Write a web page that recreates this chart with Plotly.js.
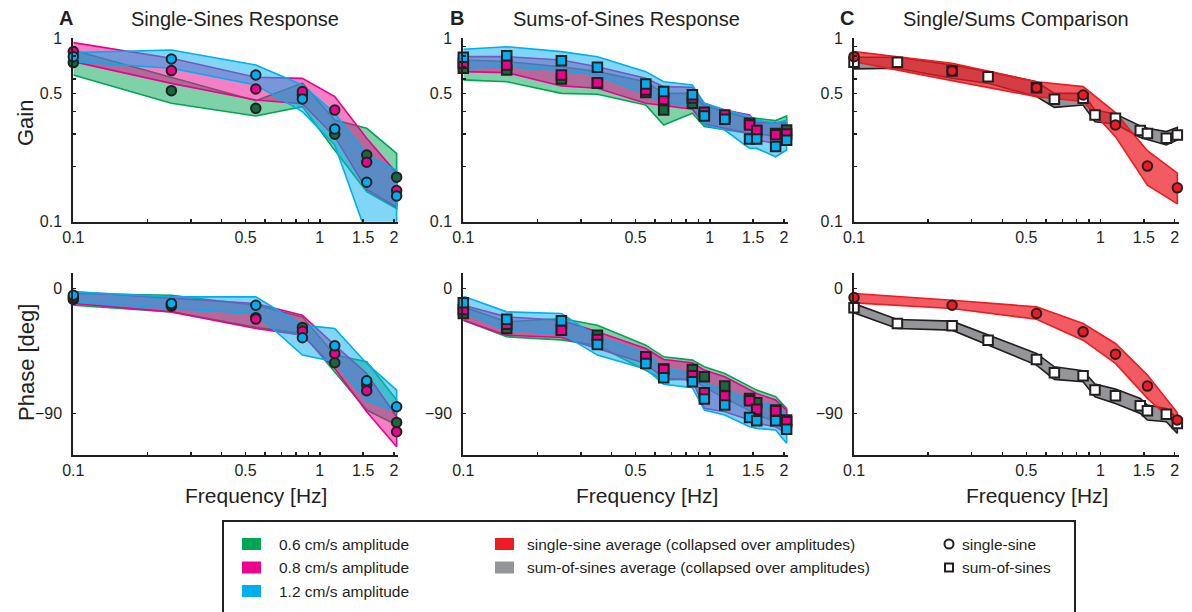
<!DOCTYPE html>
<html>
<head>
<meta charset="utf-8">
<script src="https://cdn.plot.ly/plotly-3.0.1.min.js"></script>
<style>html,body{margin:0;padding:0;background:#fff}#chart{width:1192px;height:612px}</style>
</head>
<body>
<div id="chart"></div>
<script>
// ---------------- DATA ----------------
const singleFreq = [0.1, 0.25, 0.55, 0.85, 1.15, 1.55, 2.05];
const sumsFreq = [0.1, 0.15, 0.25, 0.35, 0.55, 0.65, 0.85, 0.95, 1.15, 1.45, 1.55, 1.85, 2.05];

// Panel A gain (single sines)
const gainSingle06   = [0.737, 0.518, 0.415, 0.493, 0.300, 0.231, 0.175];
const gainSingle06Hi = [0.860, 0.610, 0.457, 0.570, 0.358, 0.323, 0.236];
const gainSingle06Lo = [0.631, 0.442, 0.377, 0.424, 0.245, 0.146, 0.118];
const gainSingle08   = [0.846, 0.667, 0.529, 0.512, 0.406, 0.211, 0.148];
const gainSingle08Hi = [0.947, 0.778, 0.613, 0.605, 0.481, 0.285, 0.184];
const gainSingle08Lo = [0.746, 0.568, 0.461, 0.440, 0.291, 0.150, 0.120];
const gainSingle12   = [0.794, 0.771, 0.631, 0.467, 0.320, 0.164, 0.138];
const gainSingle12Hi = [0.835, 0.864, 0.715, 0.557, 0.390, 0.231, 0.191];
const gainSingle12Lo = [0.746, 0.686, 0.557, 0.398, 0.262, 0.085, 0.085];

// Panel A phase
const phaseSingle06   = [-7.9, -12.7, -21, -28, -53.5, -69.6, -96.5];
const phaseSingle06Hi = [-3.6, -4.8, -12, -20.4, -48, -52.8, -80.4];
const phaseSingle06Lo = [-12, -16.8, -28, -32.4, -60, -87.6, -98.4];
const phaseSingle08   = [-6.5, -11.5, -22, -30.7, -46.8, -73.7, -103.2];
const phaseSingle08Hi = [-2.4, -7.2, -10.8, -19.2, -40.8, -61.2, -92.4];
const phaseSingle08Lo = [-10.8, -16.8, -28.8, -33.6, -57.6, -88.8, -114];
const phaseSingle12   = [-4.8, -10.8, -12, -35.5, -41.3, -66.5, -85.2];
const phaseSingle12Hi = [-2.4, -6, -6, -26.4, -28.8, -54, -73.2];
const phaseSingle12Lo = [-9.6, -14.4, -18, -48, -52.8, -80.4, -88.8];

// Panel B gain (sums of sines)
const gainSums06   = [0.686, 0.672, 0.600, 0.568, 0.506, 0.406, 0.442, 0.387, 0.371, 0.344, 0.314, 0.303, 0.316];
const gainSums06Hi = [0.762, 0.746, 0.700, 0.658, 0.580, 0.501, 0.501, 0.428, 0.398, 0.366, 0.366, 0.356, 0.377];
const gainSums06Lo = [0.593, 0.580, 0.501, 0.495, 0.433, 0.337, 0.390, 0.330, 0.316, 0.303, 0.303, 0.291, 0.303];
const gainSums08   = [0.731, 0.715, 0.631, 0.573, 0.523, 0.465, 0.473, 0.395, 0.382, 0.337, 0.314, 0.298, 0.301];
const gainSums08Hi = [0.794, 0.794, 0.762, 0.700, 0.605, 0.545, 0.541, 0.442, 0.406, 0.382, 0.347, 0.347, 0.347];
const gainSums08Lo = [0.658, 0.650, 0.550, 0.534, 0.442, 0.428, 0.410, 0.341, 0.323, 0.303, 0.279, 0.267, 0.267];
const gainSums12   = [0.788, 0.804, 0.755, 0.695, 0.564, 0.512, 0.493, 0.377, 0.362, 0.282, 0.282, 0.257, 0.278];
const gainSums12Hi = [0.871, 0.900, 0.846, 0.794, 0.658, 0.580, 0.557, 0.442, 0.406, 0.377, 0.358, 0.344, 0.358];
const gainSums12Lo = [0.686, 0.700, 0.667, 0.631, 0.497, 0.446, 0.433, 0.337, 0.316, 0.251, 0.251, 0.226, 0.246];

// Panel B phase
const phaseSums06   = [-18, -28.8, -29.5, -33.6, -50.4, -58, -58.3, -63.6, -70.3, -79.2, -82.3, -87.6, -94.8];
const phaseSums06Hi = [-13.2, -24, -21.6, -26.4, -40.8, -49.2, -51.6, -56.4, -61.2, -70.8, -73.2, -78, -86.4];
const phaseSums06Lo = [-22.8, -34.8, -37, -41, -59, -66, -65, -71, -79, -88, -91, -96, -103];
const phaseSums08   = [-15.1, -25.7, -30, -36.7, -49.2, -58.3, -62.9, -75.1, -77.5, -80.9, -87.1, -88.1, -96];
const phaseSums08Hi = [-12, -20.4, -22.8, -31.2, -43.2, -51.1, -53.5, -58.8, -63.6, -73.2, -75.6, -80.4, -87.6];
const phaseSums08Lo = [-22.8, -33.6, -35.3, -43.2, -54, -64.8, -66, -86.4, -88.8, -94.8, -97.2, -99.6, -104.4];
const phaseSums12   = [-10.3, -22.1, -23.3, -40.3, -54, -64.3, -67.2, -79.7, -84, -92.9, -95.3, -95.3, -101.5];
const phaseSums12Hi = [-5.5, -16.8, -18, -34.8, -46.8, -57.6, -61.2, -68.4, -73.2, -80.4, -82.3, -84, -91.2];
const phaseSums12Lo = [-16.8, -30, -32.4, -48, -58, -69, -71.5, -87.6, -91.2, -99.6, -100.8, -102, -111.6];

// Panel C (averages)
const gainSingleAvg   = [0.794, 0.663, 0.538, 0.491, 0.337, 0.201, 0.153];
const gainSingleAvgHi = [0.846, 0.731, 0.580, 0.545, 0.393, 0.244, 0.184];
const gainSingleAvgLo = [0.746, 0.588, 0.481, 0.452, 0.291, 0.158, 0.125];
const gainSumsAvg   = [0.740, 0.740, 0.663, 0.618, 0.538, 0.465, 0.471, 0.382, 0.366, 0.314, 0.303, 0.285, 0.297];
const gainSumsAvgHi = [0.788, 0.788, 0.715, 0.658, 0.580, 0.501, 0.501, 0.406, 0.387, 0.333, 0.323, 0.310, 0.327];
const gainSumsAvgLo = [0.681, 0.686, 0.605, 0.568, 0.481, 0.420, 0.433, 0.351, 0.341, 0.288, 0.279, 0.262, 0.279];
const phaseSingleAvg   = [-6.5, -12, -18, -31.2, -47.3, -70.3, -94.8];
const phaseSingleAvgHi = [-3.6, -8.4, -13.2, -25.2, -39.6, -62.4, -89.5];
const phaseSingleAvgLo = [-10.3, -14.4, -22.1, -37.2, -54, -79.2, -98.4];
const phaseSumsAvg   = [-13.9, -25.2, -26.9, -37.2, -51.1, -60.7, -62.9, -73.2, -77.3, -84.5, -88.1, -90.7, -97.2];
const phaseSumsAvgHi = [-10.8, -22.3, -23.5, -33.6, -46.8, -56.4, -59.3, -68.9, -72.5, -79.2, -84, -86.4, -93.6];
const phaseSumsAvgLo = [-17.5, -28.8, -30, -40.8, -55.2, -65.5, -67.2, -78, -82.8, -90, -94.8, -96, -104.4];

// Ticks
const freqTickVals = [0.1, 0.2, 0.3, 0.4, 0.5, 0.6, 0.7, 0.8, 0.9, 1, 1.5, 2];
const freqTickText = ['0.1', '', '', '', '0.5', '', '', '', '', '1', '1.5', '2'];
const gainTickVals = [0.1, 0.2, 0.3, 0.4, 0.5, 0.6, 0.7, 0.8, 0.9, 1];
const gainTickText = ['0.1', '', '', '', '0.5', '', '', '', '', '1'];
const phaseTickVals = [-90, 0];
const phaseTickText = ['\u221290', '0'];

const panelTitles = ['Single-Sines Response', 'Sums-of-Sines Response', 'Single/Sums Comparison'];
const panelLetters = ['A', 'B', 'C'];
const legendAmpLabels = ['0.6 cm/s amplitude', '0.8 cm/s amplitude', '1.2 cm/s amplitude'];
const legendAvgLabels = ['single-sine average (collapsed over amplitudes)', 'sum-of-sines average (collapsed over amplitudes)'];
const legendMarkerLabels = ['single-sine', 'sum-of-sines'];

// ---------------- STYLE ----------------
const W = 1192, H = 612;
const FONT = 'Liberation Sans, Arial, Helvetica, sans-serif';
const INK = '#231f20';
const GREEN = '#00a651', MAGENTA = '#ec008c', CYAN = '#00aeef', RED = '#ed1c24', GRAY = '#939598';
const fills = {g: 'rgba(0,166,81,0.5)', m: 'rgba(236,0,140,0.5)', c: 'rgba(0,174,239,0.5)', r: 'rgba(237,28,36,0.72)', k: 'rgb(147,149,152)'};
const markerFill = {g: '#17693d', m: MAGENTA, c: CYAN, r: RED, k: '#ffffff'};

function px(x) { return x / W; }
function py(y) { return 1 - y / H; }

function band(x, hi, lo, lineColor, fillColor, n) {
  return {
    x: x.concat(x.slice().reverse()),
    y: hi.concat(lo.slice().reverse()),
    mode: 'lines', fill: 'toself', fillcolor: fillColor,
    line: {color: lineColor, width: 1.6},
    xaxis: 'x' + n, yaxis: 'y' + n, hoverinfo: 'skip', showlegend: false
  };
}
function pts(x, y, symbol, fill, n) {
  return {
    x: x, y: y, mode: 'markers', cliponaxis: false,
    marker: {symbol: symbol, size: symbol === 'square' ? 9.5 : 9.5, color: fill, line: {color: INK, width: 2}},
    xaxis: 'x' + n, yaxis: 'y' + n, hoverinfo: 'skip', showlegend: false
  };
}

const traces = [];
// A gain (1)
traces.push(band(singleFreq, gainSingle06Hi, gainSingle06Lo, GREEN, fills.g, ''));
traces.push(band(singleFreq, gainSingle08Hi, gainSingle08Lo, MAGENTA, fills.m, ''));
traces.push(band(singleFreq, gainSingle12Hi, gainSingle12Lo, CYAN, fills.c, ''));
traces.push(pts(singleFreq, gainSingle06, 'circle', markerFill.g, ''));
traces.push(pts(singleFreq, gainSingle08, 'circle', markerFill.m, ''));
traces.push(pts(singleFreq, gainSingle12, 'circle', markerFill.c, ''));
// B gain (2)
traces.push(band(sumsFreq, gainSums06Hi, gainSums06Lo, GREEN, fills.g, '2'));
traces.push(band(sumsFreq, gainSums08Hi, gainSums08Lo, MAGENTA, fills.m, '2'));
traces.push(band(sumsFreq, gainSums12Hi, gainSums12Lo, CYAN, fills.c, '2'));
traces.push(pts(sumsFreq, gainSums06, 'square', markerFill.g, '2'));
traces.push(pts(sumsFreq, gainSums08, 'square', markerFill.m, '2'));
traces.push(pts(sumsFreq, gainSums12, 'square', markerFill.c, '2'));
// C gain (3)
traces.push(band(sumsFreq, gainSumsAvgHi, gainSumsAvgLo, INK, fills.k, '3'));
traces.push(band(singleFreq, gainSingleAvgHi, gainSingleAvgLo, RED, fills.r, '3'));
traces.push(pts(sumsFreq, gainSumsAvg, 'square', markerFill.k, '3'));
traces.push(pts(singleFreq, gainSingleAvg, 'circle', markerFill.r, '3'));
// A phase (4)
traces.push(band(singleFreq, phaseSingle06Hi, phaseSingle06Lo, GREEN, fills.g, '4'));
traces.push(band(singleFreq, phaseSingle08Hi, phaseSingle08Lo, MAGENTA, fills.m, '4'));
traces.push(band(singleFreq, phaseSingle12Hi, phaseSingle12Lo, CYAN, fills.c, '4'));
traces.push(pts(singleFreq, phaseSingle06, 'circle', markerFill.g, '4'));
traces.push(pts(singleFreq, phaseSingle08, 'circle', markerFill.m, '4'));
traces.push(pts(singleFreq, phaseSingle12, 'circle', markerFill.c, '4'));
// B phase (5)
traces.push(band(sumsFreq, phaseSums06Hi, phaseSums06Lo, GREEN, fills.g, '5'));
traces.push(band(sumsFreq, phaseSums08Hi, phaseSums08Lo, MAGENTA, fills.m, '5'));
traces.push(band(sumsFreq, phaseSums12Hi, phaseSums12Lo, CYAN, fills.c, '5'));
traces.push(pts(sumsFreq, phaseSums06, 'square', markerFill.g, '5'));
traces.push(pts(sumsFreq, phaseSums08, 'square', markerFill.m, '5'));
traces.push(pts(sumsFreq, phaseSums12, 'square', markerFill.c, '5'));
// C phase (6)
traces.push(band(sumsFreq, phaseSumsAvgHi, phaseSumsAvgLo, INK, fills.k, '6'));
traces.push(band(singleFreq, phaseSingleAvgHi, phaseSingleAvgLo, RED, fills.r, '6'));
traces.push(pts(sumsFreq, phaseSumsAvg, 'square', markerFill.k, '6'));
traces.push(pts(singleFreq, phaseSingleAvg, 'circle', markerFill.r, '6'));

// ---------------- AXES ----------------
const colX = [[73.3, 398.2], [463.3, 788.2], [854, 1178.9]];
const gainY = [38.3, 221.7], phaseY = [273.3, 455];
const xRange = [-1, Math.log10(2.08)];
const TICKSIZE = 16;

function xAxis(col, anchor) {
  return {
    type: 'log', range: xRange, domain: [px(colX[col][0]), px(colX[col][1])], anchor: anchor,
    tickmode: 'array', tickvals: freqTickVals, ticktext: freqTickText,
    ticks: 'inside', ticklen: 3, tickwidth: 1.5, tickcolor: INK,
    showline: true, linewidth: 2, linecolor: INK, showgrid: false, zeroline: false,
    tickfont: {family: FONT, size: TICKSIZE, color: INK}, ticklabelstandoff: 0
  };
}
function gainAxis(col, anchor) {
  return {
    type: 'log', range: [-1, 0], domain: [py(gainY[1]), py(gainY[0])], anchor: anchor,
    tickmode: 'array', tickvals: gainTickVals, ticktext: gainTickText,
    ticks: 'inside', ticklen: 3, tickwidth: 1.5, tickcolor: INK,
    showline: true, linewidth: 2, linecolor: INK, showgrid: false, zeroline: false,
    tickfont: {family: FONT, size: TICKSIZE, color: INK}, ticklabelstandoff: 6
  };
}
function phaseAxis(col, anchor) {
  return {
    range: [-120, 11], domain: [py(phaseY[1]), py(phaseY[0])], anchor: anchor,
    tickmode: 'array', tickvals: phaseTickVals, ticktext: phaseTickText,
    ticks: 'inside', ticklen: 3, tickwidth: 1.5, tickcolor: INK,
    showline: true, linewidth: 2, linecolor: INK, showgrid: false, zeroline: false,
    tickfont: {family: FONT, size: TICKSIZE, color: INK}, ticklabelstandoff: 6
  };
}

const layout = {
  width: W, height: H, margin: {l: 0, r: 0, t: 0, b: 0},
  paper_bgcolor: '#ffffff', plot_bgcolor: 'rgba(0,0,0,0)', showlegend: false, hovermode: false,
  xaxis: xAxis(0, 'y'), yaxis: gainAxis(0, 'x'),
  xaxis2: xAxis(1, 'y2'), yaxis2: gainAxis(1, 'x2'),
  xaxis3: xAxis(2, 'y3'), yaxis3: gainAxis(2, 'x3'),
  xaxis4: xAxis(0, 'y4'), yaxis4: phaseAxis(0, 'x4'),
  xaxis5: xAxis(1, 'y5'), yaxis5: phaseAxis(1, 'x5'),
  xaxis6: xAxis(2, 'y6'), yaxis6: phaseAxis(2, 'x6'),
  annotations: [], shapes: []
};

function txt(text, x, y, size, opts) {
  return Object.assign({
    text: text, x: px(x), y: py(y), xref: 'paper', yref: 'paper', showarrow: false,
    xanchor: 'center', yanchor: 'middle', font: {family: FONT, size: size, color: INK}
  }, opts || {});
}

const titleX = [235, 626, 1016];
const letterX = [66, 457, 847];
const freqTitleX = [256, 647, 1037];
for (let i = 0; i < 3; i++) {
  layout.annotations.push(txt(panelTitles[i], titleX[i], 19, 20));
  layout.annotations.push(txt('<b>' + panelLetters[i] + '</b>', letterX[i], 18, 20));
  layout.annotations.push(txt('Frequency [Hz]', freqTitleX[i], 495, 21));
}
layout.annotations.push(txt('Gain', 26, 123, 22, {textangle: -90}));
layout.annotations.push(txt('Phase [deg]', 26, 363, 22, {textangle: -90}));

// ---------------- LEGEND BOX ----------------
const LFONT = 'Liberation Sans, Arial, sans-serif';
const LSIZE = 15.5;
layout.shapes.push({type: 'rect', xref: 'paper', yref: 'paper', x0: px(223), x1: px(1075), y0: py(640), y1: py(521),
  line: {color: INK, width: 2}, fillcolor: 'rgba(0,0,0,0)'});
const rowY = [544, 567.5, 591];
const ampColors = [GREEN, MAGENTA, CYAN];
for (let i = 0; i < 3; i++) {
  layout.shapes.push({type: 'rect', xref: 'paper', yref: 'paper', x0: px(242), x1: px(261), y0: py(rowY[i] + 6), y1: py(rowY[i] - 6),
    line: {width: 0}, fillcolor: ampColors[i]});
  layout.annotations.push(txt(legendAmpLabels[i], 277, rowY[i], LSIZE, {xanchor: 'left', font: {family: LFONT, size: LSIZE, color: INK}}));
}
const avgColors = [RED, GRAY];
for (let i = 0; i < 2; i++) {
  layout.shapes.push({type: 'rect', xref: 'paper', yref: 'paper', x0: px(495), x1: px(514), y0: py(rowY[i] + 6), y1: py(rowY[i] - 6),
    line: {width: 0}, fillcolor: avgColors[i]});
  layout.annotations.push(txt(legendAvgLabels[i], 525, rowY[i], LSIZE, {xanchor: 'left', font: {family: LFONT, size: LSIZE, color: INK}}));
}
layout.shapes.push({type: 'circle', xref: 'paper', yref: 'paper', x0: px(944.5), x1: px(953.5), y0: py(rowY[0] + 4.5), y1: py(rowY[0] - 4.5),
  line: {color: INK, width: 2}, fillcolor: 'rgba(0,0,0,0)'});
layout.shapes.push({type: 'rect', xref: 'paper', yref: 'paper', x0: px(945), x1: px(953), y0: py(rowY[1] + 4), y1: py(rowY[1] - 4),
  line: {color: INK, width: 2}, fillcolor: 'rgba(0,0,0,0)'});
for (let i = 0; i < 2; i++) {
  layout.annotations.push(txt(legendMarkerLabels[i], 960, rowY[i], LSIZE, {xanchor: 'left', font: {family: LFONT, size: LSIZE, color: INK}}));
}

Plotly.newPlot('chart', traces, layout, {staticPlot: true, displayModeBar: false});
</script>
</body>
</html>
